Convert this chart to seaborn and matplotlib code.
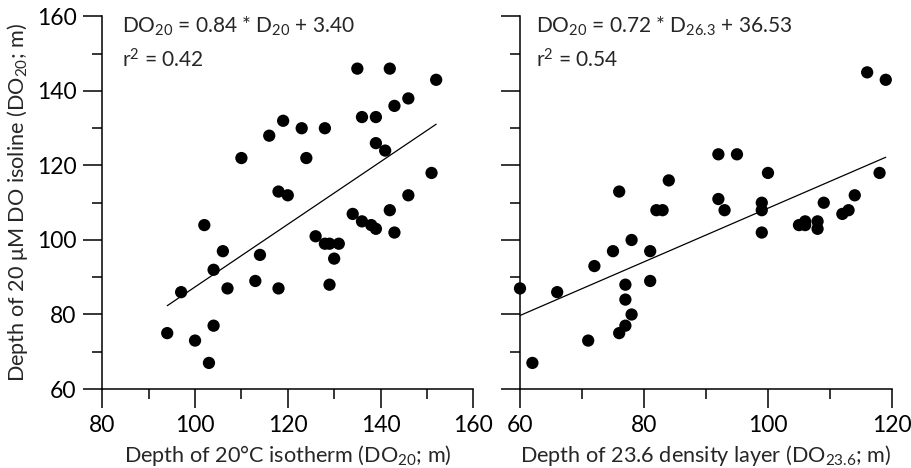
import numpy as np
import pandas as pd
import seaborn as sns
import matplotlib.pyplot as plt
from matplotlib.ticker import MultipleLocator

# left panel: depth of 20C isotherm vs depth of 20 uM DO isoline
iso_x = [135, 142, 152, 146, 143, 136, 139, 119, 116, 123, 128, 139, 141, 110,
         124, 151, 118, 120, 146, 142, 134, 136, 138, 139, 143, 102, 126, 128,
         129, 131, 130, 129, 106, 114, 104, 97, 107, 113, 118, 94, 104, 100, 103]
iso_y = [146, 146, 143, 138, 136, 133, 133, 132, 128, 130, 130, 126, 124, 122,
         122, 118, 113, 112, 112, 108, 107, 105, 104, 103, 102, 104, 101, 99,
         99, 99, 95, 88, 97, 96, 92, 86, 87, 89, 87, 75, 77, 73, 67]

# right panel: depth of 23.6 density layer vs depth of DO isoline
dens_x = [116, 119, 92, 95, 100, 118, 84, 76, 92, 93, 82, 83, 99, 99, 99, 109,
          114, 112, 113, 105, 106, 106, 108, 108, 78, 75, 81, 72, 81, 60, 66,
          77, 77, 78, 77, 76, 71, 62]
dens_y = [145, 143, 123, 123, 118, 118, 116, 113, 111, 108, 108, 108, 110, 108,
          102, 110, 112, 107, 108, 104, 105, 104, 105, 103, 100, 97, 97, 93, 89,
          87, 86, 88, 84, 80, 77, 75, 73, 67]

fit_left = (0.84, 3.40)
fit_right = (0.72, 36.53)

sns.set_style("ticks")
plt.rcParams['font.family'] = ['Lato', 'DejaVu Sans']
plt.rcParams['mathtext.fontset'] = 'custom'
plt.rcParams['mathtext.rm'] = 'Lato'
plt.rcParams['mathtext.it'] = 'Lato:italic'
plt.rcParams['mathtext.default'] = 'regular'

fs = 15.6
efs = 15
tfs = 16.5

fig = plt.figure(figsize=(9.11, 4.68), dpi=100)
ax1 = fig.add_axes([0.1123, 0.1688, 0.4072, 0.796])
ax2 = fig.add_axes([0.5708, 0.1688, 0.4083, 0.796])


def style(ax, xlim, xmajor):
    ax.set_xlim(*xlim)
    ax.set_ylim(60, 160)
    ax.xaxis.set_major_locator(MultipleLocator(xmajor))
    ax.xaxis.set_minor_locator(MultipleLocator(10))
    ax.yaxis.set_major_locator(MultipleLocator(20))
    ax.yaxis.set_minor_locator(MultipleLocator(10))
    for s in ['top', 'right']:
        ax.spines[s].set_visible(False)
    for s in ['left', 'bottom']:
        ax.spines[s].set_linewidth(1.1)
        ax.spines[s].set_color('black')
    ax.tick_params(which='major', length=13.5, width=1.1, direction='out',
                   labelsize=tfs, pad=5, colors='black')
    ax.tick_params(which='minor', length=7, width=1.1, direction='out', colors='black')
    ax.patch.set_alpha(0)


df1 = pd.DataFrame({'x': iso_x, 'y': iso_y})
sns.scatterplot(data=df1, x='x', y='y', ax=ax1, color='black', s=78,
                edgecolor='none', clip_on=False, zorder=3)
xs = np.array([min(iso_x), max(iso_x)])
ax1.plot(xs, fit_left[0] * xs + fit_left[1], color='black', lw=0.9)
style(ax1, (80, 160), 20)
ax1.set_xlabel('Depth of 20°C isotherm (DO$_{20}$; m)', fontsize=fs, labelpad=5)
ax1.set_ylabel('Depth of 20 μM DO isoline (DO$_{20}$; m)', fontsize=fs, labelpad=5)
ax1.text(0.054, 0.956, 'DO$_{20}$ = 0.84 * D$_{20}$ + 3.40', transform=ax1.transAxes,
         fontsize=efs, va='baseline', ha='left')
ax1.text(0.054, 0.862, 'r$^{2}$ = 0.42', transform=ax1.transAxes,
         fontsize=efs, va='baseline', ha='left')

df2 = pd.DataFrame({'x': dens_x, 'y': dens_y})
sns.scatterplot(data=df2, x='x', y='y', ax=ax2, color='black', s=78,
                edgecolor='none', clip_on=False, zorder=3)
xs = np.array([min(dens_x), max(dens_x)])
ax2.plot(xs, fit_right[0] * xs + fit_right[1], color='black', lw=0.9)
style(ax2, (60, 120), 20)
ax2.set_xlabel('Depth of 23.6 density layer (DO$_{23.6}$; m)', fontsize=fs, labelpad=5)
ax2.set_ylabel('')
ax2.tick_params(axis='y', labelleft=False)
ax2.text(0.043, 0.956, 'DO$_{20}$ = 0.72 * D$_{26.3}$ + 36.53', transform=ax2.transAxes,
         fontsize=efs, va='baseline', ha='left')
ax2.text(0.043, 0.862, 'r$^{2}$ = 0.54', transform=ax2.transAxes,
         fontsize=efs, va='baseline', ha='left')

fig.savefig('out.png', dpi=100)
